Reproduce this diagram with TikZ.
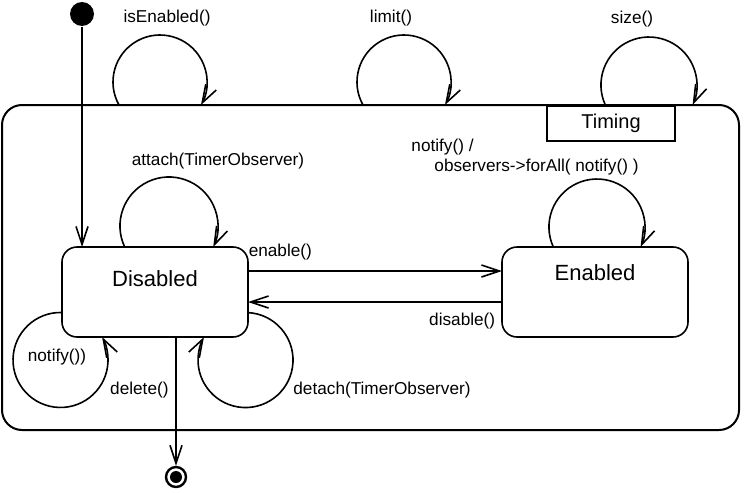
\documentclass[tikz,border=0pt]{standalone}
\usepackage{fontspec}
\setmainfont{Liberation Sans}
\usetikzlibrary{arrows.meta,positioning}

\begin{document}
\begin{tikzpicture}[
  x=0.5pt,y=-0.5pt,
  >={Straight Barb[length=9pt,width=6pt]},
  line width=0.8pt,
  font=\fontsize{8.6}{10}\selectfont,
  state/.style={draw,rounded corners=7.5pt,minimum width=93pt,inner sep=0pt,
    outer sep=0pt,font=\fontsize{11}{13}\selectfont},
  composite/.style={draw,line width=1pt,rounded corners=10pt,outer sep=0pt,
    minimum width=368.5pt,minimum height=162.5pt},
  tab/.style={draw,line width=1pt,minimum width=64pt,minimum height=17.5pt,
    inner sep=0pt,font=\fontsize{10}{12}\selectfont},
  init/.style={circle,fill,minimum size=12pt,inner sep=0pt},
  final/.style={circle,draw,line width=1.2pt,minimum size=10pt,inner sep=0pt,
    path picture={\fill (path picture bounding box.center) circle (3pt);}},
  lbl/.style={inner sep=0pt},
  trans/.style={->}
]
\useasboundingbox (0,0) rectangle (748,492);

\node[composite] (timing) at (370.5,267.5) {};
\node[tab,anchor=north east] (tabname) at ([xshift=-31.5pt]timing.north east) {Timing};

\node[state,text height=19.5pt,text depth=25.5pt] (dis) at (155,292) {Disabled};
\node[state,text height=16.5pt,text depth=28.5pt,right=127pt of dis] (en) {Enabled};

\node[init] (start) at (82,14) {};
\node[final] (end) at ([xshift=10.5pt,yshift=-70pt]dis.south) {};

\draw[trans] (start) -- (start |- dis.north);
\draw[trans] ([yshift=10.5pt]dis.east) -- node[lbl,pos=0,anchor=south west,yshift=5pt]{enable()} ([yshift=10.5pt]en.west);
\draw[trans] ([yshift=-5pt]en.west) -- node[lbl,pos=0,anchor=north east,xshift=-3pt,yshift=-5pt]{disable()} ([yshift=-5pt]dis.east);
\draw[trans] (dis.south -| end) -- node[left,pos=0.41]{delete()} (end);

\draw[trans] ([xshift=58.5pt]timing.north west) arc[start angle=150.7,end angle=389.3,radius=47];
\draw[trans] ([xshift=180.5pt]timing.north west) arc[start angle=150.7,end angle=389.3,radius=47];
\draw[trans] ([xshift=301.65pt]timing.north west) arc[start angle=155.4,end angle=384.6,radius=48];
\draw[trans] ([xshift=31.35pt]dis.north west) arc[start angle=154.6,end angle=385.4,radius=49];
\draw[trans] ([xshift=25.65pt]en.north west) arc[start angle=155.4,end angle=384.6,radius=48];
\draw[trans] ([yshift=-32.75pt]dis.north west) arc[start angle=271.8,end angle=-29,radius=47.5];
\draw[trans] ([yshift=-32.8pt]dis.north east) arc[start angle=273,end angle=569,radius=47.5];

\node[lbl] (l-isen) at (167,18) {isEnabled()};
\node[lbl] (l-limit) at (391,18) {limit()};
\node[lbl] (l-size) at (632,19) {size()};
\node[lbl] (l-attach) at (218,161) {attach(TimerObserver)};
\node[lbl,align=left] (l-notify) at (525,157) {notify() /\\\hspace*{11.5pt}observers->forAll( notify() )};
\node[lbl] (l-notify2) at (57,357) {notify())};
\node[lbl] (l-detach) at (382,390) {detach(TimerObserver)};
\end{tikzpicture}
\end{document}
